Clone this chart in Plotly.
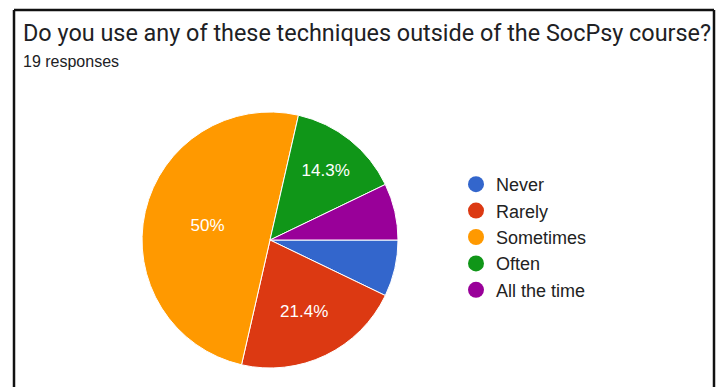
import plotly.graph_objects as go

# Survey answers (slice order follows the answer scale)
categories = ["Never", "Rarely", "Sometimes", "Often", "All the time"]
counts = [1, 3, 7, 2, 1]
colors = ["#3366CC", "#DC3912", "#FF9900", "#109618", "#990099"]
# Only the larger slices carry a percentage label
label_templates = ["", "%{percent}", "%{percent}", "%{percent}", ""]

title_text = "Do you use any of these techniques outside of the SocPsy course?"
subtitle_text = "19 responses"

W, H = 720, 387

fig = go.Figure()

fig.add_trace(go.Pie(
    labels=categories,
    values=counts,
    sort=False,
    direction="clockwise",
    rotation=90,
    marker=dict(colors=colors, line=dict(color="white", width=1)),
    texttemplate=label_templates,
    textposition="inside",
    insidetextorientation="horizontal",
    textfont=dict(family="Liberation Sans, Arial", size=17, color="white"),
    hoverinfo="label+percent",
    showlegend=False,
    domain=dict(x=[142 / W, 398 / W], y=[(H - 368) / H, (H - 112) / H]),
))

# Legend entries with round swatches
for name, col in zip(categories, colors):
    fig.add_trace(go.Scatter(
        x=[None], y=[None], mode="markers", name=name,
        marker=dict(symbol="circle", size=16, color=col),
        showlegend=True, hoverinfo="skip",
    ))

fig.update_layout(
    width=W, height=H,
    margin=dict(l=0, r=0, t=0, b=0),
    paper_bgcolor="white",
    plot_bgcolor="white",
    xaxis=dict(visible=False),
    yaxis=dict(visible=False),
    legend=dict(
        x=456 / W, y=(H - 166) / H, xanchor="left", yanchor="top",
        font=dict(family="Liberation Sans, Arial", size=18, color="#222222"),
        bgcolor="rgba(0,0,0,0)",
        traceorder="normal",
    ),
    annotations=[
        dict(text=title_text, x=21 / W, y=(H - 33) / H, xref="paper", yref="paper",
             xanchor="left", yanchor="middle", showarrow=False,
             font=dict(family="Roboto", size=23.4, color="#202124")),
        dict(text=subtitle_text, x=21 / W, y=(H - 62) / H, xref="paper", yref="paper",
             xanchor="left", yanchor="middle", showarrow=False,
             font=dict(family="Liberation Sans, Arial", size=16, color="#202124")),
    ],
    shapes=[
        # open-bottomed frame around the card
        dict(type="line", xref="paper", yref="paper", x0=14 / W, x1=14 / W,
             y0=0, y1=(H - 10) / H, line=dict(color="#111111", width=2.5)),
        dict(type="line", xref="paper", yref="paper", x0=714 / W, x1=714 / W,
             y0=0, y1=(H - 10) / H, line=dict(color="#111111", width=2.5)),
        dict(type="line", xref="paper", yref="paper", x0=14 / W, x1=714 / W,
             y0=(H - 10) / H, y1=(H - 10) / H, line=dict(color="#111111", width=2.5)),
    ],
)

fig.write_html("out.html")
